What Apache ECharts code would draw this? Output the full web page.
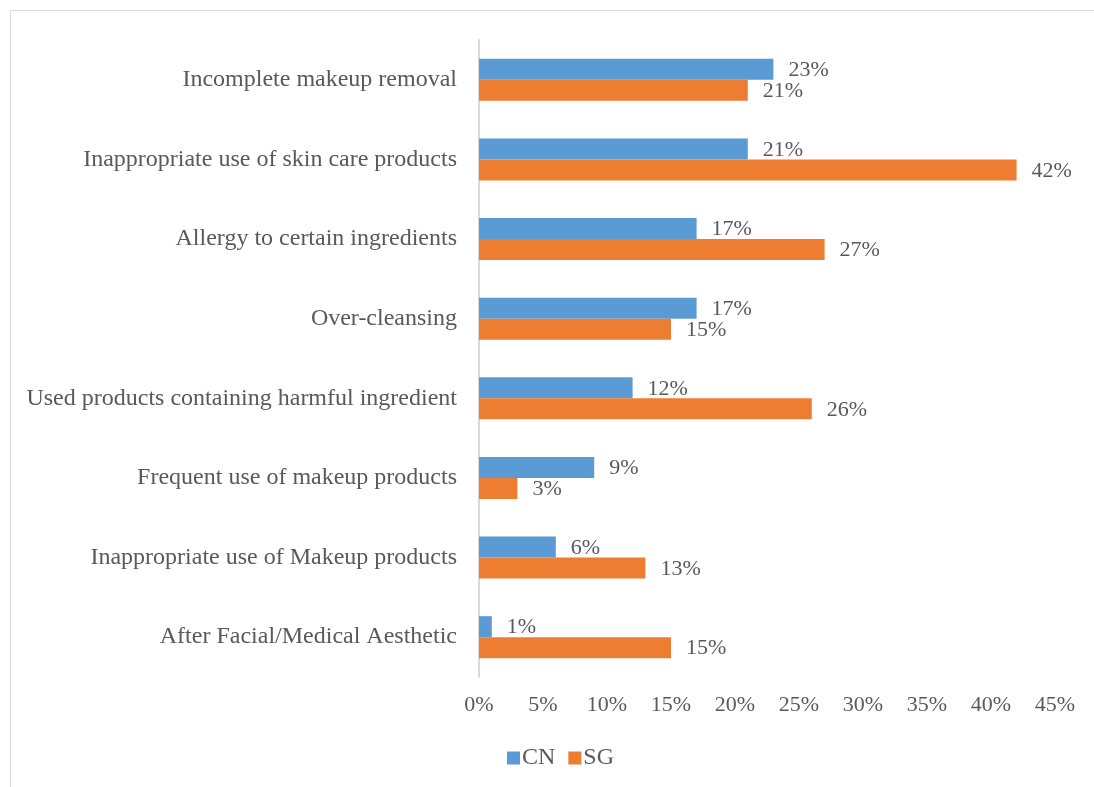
<!DOCTYPE html>
<html>
<head>
<meta charset="utf-8">
<style>
  html, body { margin: 0; padding: 0; background: #ffffff; }
  #chart { width: 1094px; height: 787px; }
</style>
<script src="https://cdn.jsdelivr.net/npm/echarts@6/dist/echarts.min.js"></script>
</head>
<body>
<div id="chart"></div>
<script>
// Causes of skin problems, share of respondents (%) by market
const categories = [
  'Incomplete makeup removal',
  'Inappropriate use of skin care products',
  'Allergy to certain ingredients',
  'Over-cleansing',
  'Used products containing harmful ingredient',
  'Frequent use of makeup products',
  'Inappropriate use of Makeup products',
  'After Facial/Medical Aesthetic'
];
const cnValues = [23, 21, 17, 17, 12, 9, 6, 1];
const sgValues = [21, 42, 27, 15, 26, 3, 13, 15];
const seriesNames = ['CN', 'SG'];

const FONT = '"Liberation Serif", "Times New Roman", serif';
const TEXT = '#595959';

const chart = echarts.init(document.getElementById('chart'), null, { renderer: 'canvas' });

const valueLabel = {
  show: true,
  position: 'right',
  distance: 15,
  offset: [0, 1],
  formatter: p => p.value + '%',
  fontFamily: FONT,
  fontSize: 22,
  color: TEXT
};

chart.setOption({
  backgroundColor: '#ffffff',
  animation: false,
  graphic: [{
    type: 'rect',
    shape: { x: 10.5, y: 10.5, width: 1200, height: 900 },
    style: { fill: 'none', stroke: '#d9d9d9', lineWidth: 1 },
    silent: true
  }],
  grid: { left: 479, right: 39, top: 40, bottom: 110, containLabel: false },
  legend: {
    data: seriesNames,
    left: 502,
    top: 741,
    icon: 'rect',
    itemWidth: 13,
    itemHeight: 13,
    itemGap: 13,
    textStyle: { fontFamily: FONT, fontSize: 24, color: TEXT, padding: [0, 0, 0, -3] }
  },
  xAxis: {
    type: 'value',
    min: 0,
    max: 45,
    interval: 5,
    axisLine: { show: false },
    axisTick: { show: false },
    splitLine: { show: false },
    axisLabel: {
      formatter: '{value}%',
      margin: 17,
      fontFamily: FONT,
      fontSize: 22,
      color: TEXT
    }
  },
  yAxis: {
    type: 'category',
    data: categories,
    inverse: true,
    axisLine: { show: true, lineStyle: { color: '#d9d9d9', width: 2 } },
    axisTick: { show: false },
    axisLabel: {
      margin: 22,
      fontFamily: FONT,
      fontSize: 24,
      color: TEXT
    }
  },
  series: [
    {
      name: seriesNames[0],
      type: 'bar',
      data: cnValues,
      barWidth: 21,
      barGap: '0%',
      itemStyle: { color: '#5b9bd5' },
      label: valueLabel
    },
    {
      name: seriesNames[1],
      type: 'bar',
      data: sgValues,
      barWidth: 21,
      barGap: '0%',
      itemStyle: { color: '#ed7d31' },
      label: valueLabel
    }
  ]
});
</script>
</body>
</html>
